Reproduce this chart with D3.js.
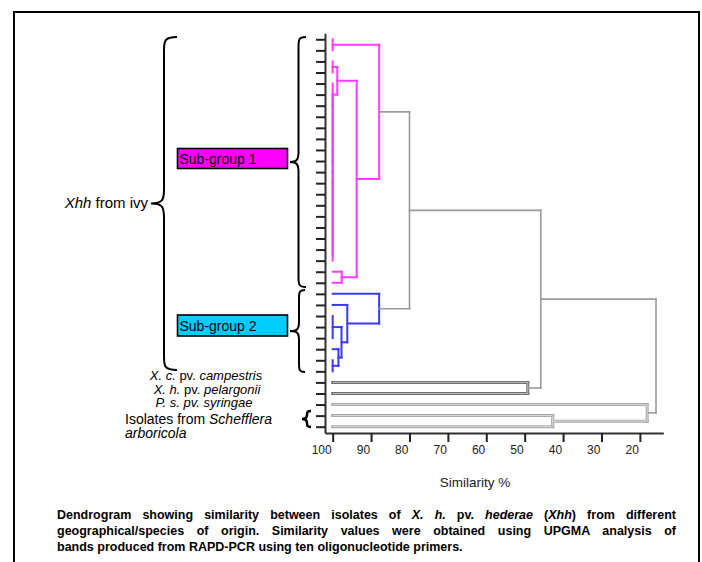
<!DOCTYPE html>
<html><head><meta charset="utf-8">
<script src="https://cdn.jsdelivr.net/npm/d3@7"></script>
<style>
body{margin:0;background:#fff}
svg{display:block}
text{font-family:Arial,"Liberation Sans",sans-serif}
</style>
</head><body>
<svg id="chart" width="702" height="562"></svg>
<script>
// ---------------- DATA ----------------
// 36 isolates, top to bottom; group membership of each leaf
const leafGroups = [
  "sg1","sg1","sg1","sg1","sg1","sg1","sg1","sg1","sg1","sg1",
  "sg1","sg1","sg1","sg1","sg1","sg1","sg1","sg1","sg1","sg1",
  "sg1","sg1","sg1",
  "sg2","sg2","sg2","sg2","sg2","sg2","sg2","sg2",
  "out","out","out","out","out"
];
// UPGMA merges: [node id, similarity %, children (leaf index or node id)]
const merges = [
  ["m1", 100, [0, 1]],
  ["m2", 100, [2, 3]],
  ["c19", 100, [19, 20]],
  ["c18", 100, [18, "c19"]],
  ["c17", 100, [17, "c18"]],
  ["c16", 100, [16, "c17"]],
  ["c15", 100, [15, "c16"]],
  ["c14", 100, [14, "c15"]],
  ["c13", 100, [13, "c14"]],
  ["c12", 100, [12, "c13"]],
  ["c11", 100, [11, "c12"]],
  ["c10", 100, [10, "c11"]],
  ["c9", 100, [9, "c10"]],
  ["c8", 100, [8, "c9"]],
  ["c7", 100, [7, "c8"]],
  ["c6", 100, [6, "c7"]],
  ["c5", 100, [5, "c6"]],
  ["c4", 100, [4, "c5"]],
  ["m4", 98.8, ["m2", "c4"]],
  ["e", 97.65, [21, 22]],
  ["c", 93.75, ["m4", "e"]],
  ["sg1", 87.9, ["m1", "c"]],
  ["b5", 100, [25, 26, 27]],
  ["b9", 100, [29, 30]],
  ["b10", 98.5, [28, "b9"]],
  ["b6", 97.7, ["b5", "b10"]],
  ["b2", 96.2, [24, "b6"]],
  ["sg2", 87.9, [23, "b2"]],
  ["g1", 80, ["sg1", "sg2"]],
  ["g3", 49.2, [31, 32]],
  ["g2", 45.8, ["g1", "g3"]],
  ["g6", 42.7, [34, 35]],
  ["g5", 18.1, [33, "g6"]],
  ["g4", 15.8, ["g2", "g5"]]
];
const xTicks = [100, 90, 80, 70, 60, 50, 40, 30, 20];
const xTitle = "Similarity %";

// ---------------- LAYOUT ----------------
const svg = d3.select("#chart");
const x = d3.scaleLinear().domain([102, 13.9]).range([325, 663.3]);
const y = d3.scaleLinear().domain([-0.54, 35.57]).range([33.3, 433]);

const colors = {sg1: "#ff3cff", sg2: "#3a3aff", out: "#9a9a9a"};
const darkLeaves = new Set([31, 32]);

// frame
svg.append("rect").attr("x", 14).attr("y", 12).attr("width", 685).attr("height", 600)
  .attr("fill", "none").attr("stroke", "#000").attr("stroke-width", 2);

// build node table
const nodes = new Map();
leafGroups.forEach((g, i) => nodes.set(i, {sim: 100, y: y(i), leaves: [i]}));
merges.forEach(([id, sim, kids]) => {
  const ks = kids.map(k => nodes.get(k));
  const leaves = ks.flatMap(k => k.leaves);
  nodes.set(id, {id, sim, kids: ks, leaves, y: (ks[0].y + ks[ks.length - 1].y) / 2});
});
function styleOf(n) {
  const gs = new Set(n.leaves.map(i => leafGroups[i]));
  if (gs.size === 1 && gs.has("sg1")) return {c: colors.sg1, w: 2, dbl: false};
  if (gs.size === 1 && gs.has("sg2")) return {c: colors.sg2, w: 2, dbl: false};
  if (gs.size === 1 && gs.has("out")) {
    const dark = n.leaves.every(i => darkLeaves.has(i));
    return {c: dark ? "#6e6e6e" : "#a8a8a8", w: 3, dbl: true, inner: dark ? "#c8c8c8" : "#e0e0e0"};
  }
  return {c: colors.out, w: 1.6, dbl: false};
}
const segs = [];
merges.forEach(([id]) => {
  const n = nodes.get(id);
  const st = styleOf(n);
  const xs = x(n.sim);
  segs.push({x1: xs, y1: n.kids[0].y, x2: xs, y2: n.kids[n.kids.length - 1].y, st});
  n.kids.forEach(k => {
    if (k.sim !== n.sim) segs.push({x1: x(k.sim), y1: k.y, x2: xs, y2: k.y, st});
  });
});
const gTree = svg.append("g");
gTree.selectAll("line.o").data(segs).join("line")
  .attr("x1", d => d.x1).attr("x2", d => d.x2).attr("y1", d => d.y1).attr("y2", d => d.y2)
  .attr("stroke", d => d.st.c).attr("stroke-width", d => d.st.w).attr("stroke-linecap", "square");
gTree.selectAll("line.i").data(segs.filter(d => d.st.dbl)).join("line")
  .attr("x1", d => d.x1).attr("x2", d => d.x2).attr("y1", d => d.y1).attr("y2", d => d.y2)
  .attr("stroke", d => d.st.inner).attr("stroke-width", 0.9);

// axes
const yAxis = svg.append("g").attr("transform", "translate(325,0)")
  .call(d3.axisLeft(y).tickValues(leafGroups.map((g, i) => i)).tickSize(9).tickSizeOuter(0).tickFormat(""));
yAxis.select(".domain").attr("stroke", "#333").attr("stroke-width", 2);
yAxis.selectAll(".tick line").attr("stroke", "#222").attr("stroke-width", 2);

const xAxis = svg.append("g").attr("transform", "translate(0,433)")
  .call(d3.axisBottom(x).tickValues(xTicks).tickSize(9).tickSizeOuter(0));
xAxis.select(".domain").attr("stroke", "#333").attr("stroke-width", 2);
xAxis.selectAll(".tick line").attr("stroke", "#222").attr("stroke-width", 2);
xAxis.selectAll(".tick text").attr("text-anchor", "end").attr("x", -1.5)
  .attr("font-size", 12).attr("font-family", "Arial, 'Liberation Sans', sans-serif").attr("fill", "#222");

svg.append("text").attr("x", 475).attr("y", 487).attr("text-anchor", "middle")
  .attr("font-size", 13.5).attr("fill", "#222").text(xTitle);

// braces
function brace(xe, xs, xt, y0, y1, r) {
  const ym = (y0 + y1) / 2;
  return `M${xe},${y0} C${xs},${y0} ${xs},${y0 + r * 0.3} ${xs},${y0 + r}` +
    ` L${xs},${ym - r} C${xs},${ym - r * 0.2} ${xs - 2},${ym} ${xt},${ym}` +
    ` C${xs - 2},${ym} ${xs},${ym + r * 0.2} ${xs},${ym + r}` +
    ` L${xs},${y1 - r} C${xs},${y1 - r * 0.3} ${xs},${y1} ${xe},${y1}`;
}
const braces = [
  {p: brace(177, 164, 151, 37, 370, 14), w: 2},
  {p: brace(306, 298.5, 290, 37, 287, 10), w: 2},
  {p: brace(305, 299, 290, 290, 372, 9), w: 2},
  {p: brace(311, 307, 302, 411, 427, 4), w: 2.5}
];
svg.selectAll("path.brace").data(braces).join("path").attr("class", "brace")
  .attr("d", d => d.p).attr("fill", "none").attr("stroke", "#000").attr("stroke-width", d => d.w);

// sub-group boxes
const boxes = [
  {label: "Sub-group 1", y: 148.5, h: 20, fill: "#ff00ff"},
  {label: "Sub-group 2", y: 315, h: 21, fill: "#00ccff"}
];
const gb = svg.selectAll("g.box").data(boxes).join("g");
gb.append("rect").attr("x", 177.5).attr("y", d => d.y).attr("width", 110).attr("height", d => d.h)
  .attr("fill", d => d.fill).attr("stroke", "#000").attr("stroke-width", 1.6);
gb.append("text").attr("x", 179.5).attr("y", d => d.y + d.h / 2 + 5).attr("font-size", 14)
  .attr("fill", "#000").text(d => d.label);

// labels
function rich(sel, parts) {
  parts.forEach(([t, it]) => sel.append("tspan").attr("font-style", it ? "italic" : "normal").text(t));
  return sel;
}
rich(svg.append("text").attr("x", 148).attr("y", 208).attr("text-anchor", "end").attr("font-size", 15),
  [["Xhh", true], [" from ivy", false]]);
rich(svg.append("text").attr("x", 206).attr("y", 380).attr("text-anchor", "middle").attr("font-size", 13),
  [["X. c.", true], [" pv. ", false], ["campestris", true]]);
rich(svg.append("text").attr("x", 207).attr("y", 393.5).attr("text-anchor", "middle").attr("font-size", 13),
  [["X. h.", true], [" pv. ", false], ["pelargonii", true]]);
rich(svg.append("text").attr("x", 204).attr("y", 406.5).attr("text-anchor", "middle").attr("font-size", 13),
  [["P. s. pv. syringae", true]]);
rich(svg.append("text").attr("x", 125).attr("y", 423.5).attr("font-size", 14),
  [["Isolates from ", false], ["Schefflera", true]]);
rich(svg.append("text").attr("x", 125).attr("y", 438).attr("font-size", 14),
  [["arboricola", true]]);

// caption (lines 1-2 justified to the same width)
const cap = [
  {y: 519, just: true, parts: [["Dendrogram showing similarity between isolates of ", false], ["X. h.", true], [" pv. ", false], ["hederae", true], [" (", false], ["Xhh", true], [") from different", false]]},
  {y: 535, just: true, parts: [["geographical/species of origin. Similarity values were obtained using UPGMA analysis of", false]]},
  {y: 551, just: false, parts: [["bands produced from RAPD-PCR using ten oligonucleotide primers.", false]]}
];
const capLeft = 57, capRight = 676;
cap.forEach(c => {
  const t = svg.append("text").attr("x", capLeft).attr("y", c.y).attr("font-size", 12.5).attr("font-weight", "bold");
  rich(t, c.parts);
  if (c.just) {
    const w = t.node().getComputedTextLength();
    const txt = c.parts.map(p => p[0]).join("");
    const spaces = (txt.match(/ /g) || []).length;
    const extra = (capRight - capLeft - w) / spaces;
    t.attr("word-spacing", extra);
  }
});
</script>
</body></html>
